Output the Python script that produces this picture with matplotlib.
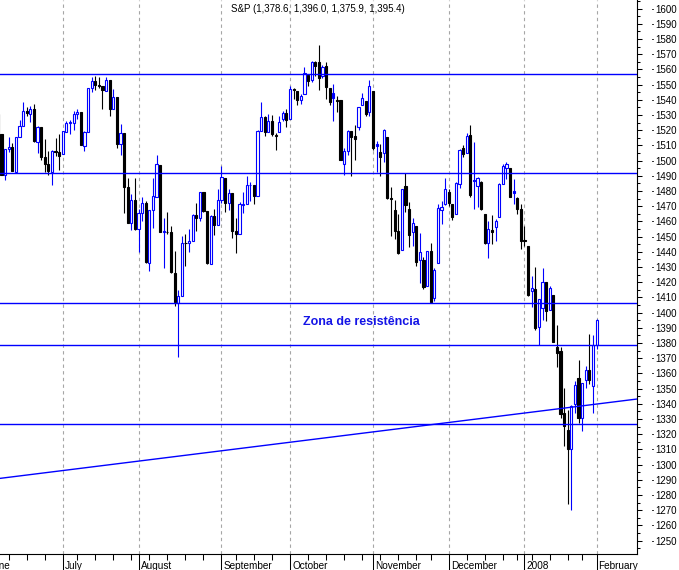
import numpy as np
import pandas as pd
import matplotlib
matplotlib.use("Agg")
import matplotlib.pyplot as plt
from matplotlib.patches import Rectangle
import matplotlib.transforms as mtransforms

plt.rcParams['font.family'] = ['Liberation Sans', 'DejaVu Sans']

# ---------------- data ----------------
holidays = ['2007-07-04', '2007-09-03', '2007-11-22', '2007-12-25', '2008-01-01', '2008-01-21']
dates = pd.bdate_range('2007-06-01', '2008-02-01')
dates = dates[~dates.isin(pd.to_datetime(holidays))]

opens = [
    # June
    1530.6, 1536.3, 1539.1, 1530.6, 1517.4, 1490.7, 1507.6, 1509.1, 1492.7, 1515.6, 1523.0,
    1532.9, 1531.0, 1533.7, 1512.5, 1522.2, 1502.6, 1497.7, 1492.6, 1506.3, 1505.7,
    # July
    1504.7, 1519.1, 1524.9, 1525.0, 1530.4, 1531.9, 1509.9, 1518.7, 1547.7, 1552.5, 1549.5,
    1549.2, 1546.1, 1553.2, 1534.1, 1541.6, 1511.0, 1518.1, 1482.4, 1458.9, 1473.9,
    # August
    1455.2, 1465.5, 1472.2, 1433.0, 1467.6, 1476.2, 1497.2, 1453.1, 1453.4, 1452.9, 1426.2,
    1406.6, 1411.3, 1445.9, 1445.6, 1447.0, 1464.1, 1462.3, 1479.4, 1466.7, 1432.0, 1463.7, 1457.6,
    # September
    1474.0, 1488.8, 1472.0, 1478.6, 1453.5, 1451.7, 1471.1, 1471.5, 1484.0, 1484.2, 1476.6,
    1519.8, 1528.7, 1518.8, 1525.8, 1516.3, 1518.6, 1527.3, 1531.2,
    # October
    1527.3, 1547.0, 1545.8, 1539.9, 1543.8, 1556.5, 1553.2, 1565.0, 1564.7, 1555.4, 1562.3,
    1547.8, 1544.4, 1539.3, 1540.0, 1497.8, 1506.3, 1519.6, 1516.2, 1522.2, 1536.9, 1539.4, 1532.2,
    # November
    1545.8, 1511.1, 1505.6, 1505.3, 1515.5, 1475.3, 1467.6, 1453.7, 1441.4, 1483.4, 1468.0,
    1453.1, 1456.7, 1434.5, 1434.7, 1417.6, 1440.7, 1409.6, 1433.0, 1467.4, 1471.8,
    # December
    1479.6, 1471.3, 1465.2, 1484.6, 1508.6, 1505.1, 1516.7, 1487.6, 1483.3, 1486.2, 1465.1,
    1445.9, 1454.7, 1456.4, 1463.2, 1484.6, 1495.1, 1495.1, 1479.8, 1475.3,
    # January + Feb 1
    1468.0, 1447.6, 1444.0, 1414.1, 1415.7, 1390.3, 1403.0, 1419.9, 1401.6, 1411.9, 1377.4,
    1374.8, 1333.9, 1323.0, 1310.4, 1340.1, 1357.3, 1330.7, 1355.9, 1362.2, 1352.0, 1378.6,
]
highs = [
    1540.6, 1540.5, 1539.1, 1530.6, 1517.4, 1507.8, 1515.5, 1511.3, 1515.7, 1526.5, 1538.7,
    1535.4, 1535.9, 1537.3, 1522.9, 1522.2, 1514.3, 1506.1, 1506.8, 1514.8, 1517.5,
    1519.5, 1526.0, 1526.6, 1532.4, 1534.3, 1531.9, 1519.3, 1547.9, 1555.1, 1555.9, 1555.3,
    1549.2, 1555.2, 1553.2, 1547.2, 1541.6, 1524.3, 1518.1, 1488.5, 1477.9, 1488.3,
    1468.4, 1476.4, 1473.2, 1467.7, 1488.3, 1503.9, 1497.2, 1462.0, 1466.3, 1456.7, 1440.8,
    1415.1, 1450.3, 1451.8, 1455.3, 1464.9, 1472.1, 1479.4, 1479.4, 1466.7, 1464.2, 1468.4, 1481.5,
    1496.4, 1488.8, 1481.5, 1478.6, 1462.3, 1472.5, 1479.5, 1489.6, 1486.0, 1484.2, 1519.9,
    1538.7, 1529.1, 1530.9, 1530.2, 1518.3, 1529.4, 1532.5, 1533.7,
    1549.0, 1548.0, 1545.8, 1544.0, 1561.9, 1556.5, 1565.3, 1565.4, 1576.1, 1563.0, 1564.7,
    1547.8, 1550.7, 1542.8, 1540.0, 1508.1, 1520.0, 1519.6, 1523.2, 1535.5, 1544.7, 1539.4, 1552.8,
    1545.8, 1513.2, 1510.8, 1520.8, 1515.5, 1482.5, 1474.1, 1464.9, 1481.4, 1492.1, 1472.7,
    1462.2, 1456.7, 1452.6, 1436.4, 1440.9, 1446.1, 1429.5, 1471.6, 1473.8, 1488.9,
    1481.2, 1471.3, 1486.1, 1508.0, 1510.6, 1518.3, 1523.6, 1512.0, 1489.4, 1486.7, 1465.1,
    1460.2, 1464.4, 1461.5, 1485.4, 1497.6, 1498.9, 1495.1, 1488.0, 1475.8,
    1471.8, 1456.8, 1444.0, 1423.9, 1430.3, 1409.2, 1429.1, 1419.9, 1417.3, 1411.9, 1392.0,
    1377.7, 1350.3, 1336.0, 1339.0, 1355.2, 1368.6, 1354.0, 1364.9, 1385.9, 1385.6, 1396.0,
]
lows = [
    1530.6, 1532.3, 1525.6, 1514.1, 1490.4, 1487.4, 1505.8, 1493.0, 1492.7, 1515.6, 1523.0,
    1529.3, 1525.7, 1512.4, 1504.8, 1500.7, 1492.7, 1490.5, 1484.2, 1503.4, 1493.6,
    1504.7, 1519.1, 1517.7, 1520.5, 1527.5, 1510.0, 1506.1, 1518.7, 1544.9, 1546.7, 1547.7,
    1533.7, 1546.1, 1529.2, 1534.1, 1508.6, 1503.7, 1465.3, 1459.0, 1454.3, 1454.3,
    1439.6, 1460.6, 1432.8, 1427.4, 1455.8, 1476.2, 1453.1, 1429.7, 1451.5, 1426.2, 1404.4,
    1370.6, 1411.3, 1430.5, 1439.8, 1447.0, 1453.9, 1460.5, 1466.0, 1432.0, 1432.0, 1451.3, 1457.6,
    1472.2, 1466.3, 1467.4, 1449.1, 1439.3, 1451.7, 1465.8, 1471.5, 1473.2, 1471.8, 1476.6,
    1519.8, 1516.4, 1518.8, 1516.2, 1507.1, 1518.6, 1525.8, 1522.0,
    1527.3, 1540.4, 1536.3, 1537.6, 1543.8, 1549.0, 1551.8, 1555.5, 1546.7, 1554.1, 1540.8,
    1536.3, 1526.0, 1531.8, 1500.3, 1490.4, 1503.6, 1489.6, 1500.5, 1520.2, 1536.9, 1529.6, 1529.4,
    1506.7, 1492.5, 1490.0, 1499.1, 1475.0, 1450.3, 1448.5, 1438.5, 1441.4, 1466.5, 1443.5,
    1444.0, 1430.4, 1419.3, 1415.6, 1417.6, 1406.1, 1407.4, 1433.0, 1458.4, 1470.9,
    1470.1, 1460.7, 1465.2, 1482.2, 1502.7, 1505.0, 1476.0, 1468.2, 1469.2, 1467.8, 1445.4,
    1435.7, 1445.3, 1447.2, 1463.2, 1484.6, 1488.2, 1475.9, 1471.7, 1465.1,
    1442.1, 1443.7, 1411.2, 1403.5, 1388.3, 1378.7, 1395.3, 1394.8, 1401.6, 1380.6, 1364.3,
    1330.7, 1312.5, 1274.3, 1270.1, 1334.3, 1327.5, 1322.3, 1350.2, 1353.0, 1334.1, 1375.9,
]
closes = [
    1536.3, 1539.2, 1531.0, 1517.4, 1490.7, 1507.7, 1509.1, 1493.0, 1515.7, 1523.0, 1532.9,
    1531.1, 1533.7, 1512.8, 1522.2, 1502.6, 1497.7, 1492.9, 1506.3, 1505.7, 1503.4,
    1519.4, 1524.9, 1525.4, 1530.4, 1531.9, 1510.1, 1518.8, 1547.7, 1552.5, 1549.5, 1549.4,
    1546.2, 1553.1, 1534.1, 1541.6, 1511.0, 1518.1, 1482.7, 1459.0, 1473.9, 1455.3,
    1465.8, 1472.2, 1433.1, 1467.7, 1476.7, 1497.5, 1453.1, 1453.6, 1452.9, 1426.5, 1406.7,
    1411.3, 1445.9, 1445.6, 1447.1, 1464.1, 1462.5, 1479.4, 1466.8, 1432.4, 1463.8, 1457.6, 1474.0,
    1489.4, 1472.3, 1478.6, 1453.6, 1451.7, 1471.5, 1471.6, 1484.0, 1484.3, 1476.7, 1519.8,
    1529.0, 1518.8, 1525.8, 1517.7, 1517.2, 1525.4, 1531.4, 1526.8,
    1547.0, 1546.6, 1539.6, 1542.8, 1557.6, 1552.6, 1565.2, 1562.5, 1554.4, 1561.8, 1548.7,
    1538.5, 1541.2, 1540.1, 1500.6, 1506.3, 1519.6, 1515.9, 1514.4, 1535.3, 1541.0, 1531.0, 1549.4,
    1508.4, 1509.7, 1502.2, 1520.3, 1475.6, 1474.8, 1453.7, 1439.2, 1481.1, 1470.6, 1451.2,
    1458.7, 1433.3, 1439.7, 1416.8, 1440.7, 1407.2, 1428.2, 1469.0, 1469.7, 1481.1,
    1472.4, 1462.8, 1485.0, 1507.3, 1504.7, 1516.0, 1477.7, 1486.6, 1488.4, 1468.0, 1445.9,
    1455.0, 1453.0, 1460.1, 1484.5, 1496.5, 1497.7, 1476.3, 1478.5, 1468.4,
    1447.2, 1447.2, 1411.6, 1416.2, 1390.2, 1409.1, 1420.3, 1401.0, 1416.3, 1381.0, 1373.2,
    1333.3, 1325.2, 1310.5, 1338.6, 1352.1, 1330.6, 1354.0, 1362.3, 1355.8, 1378.6, 1395.4,
]

month_dates = ['2007-06-01', '2007-07-02', '2007-08-01', '2007-09-04', '2007-10-01',
               '2007-11-01', '2007-12-03', '2008-01-03', '2008-02-01']
month_labels = ['June', 'July', 'August', 'September', 'October',
                'November', 'December', '2008', 'February']

support_levels = [1556.8, 1491.8, 1406.3, 1378.7, 1326.6]
trend_ends = [1291.0, 1343.2]
title_text = 'S&P (1,378.6, 1,396.0, 1,375.9, 1,395.4)'
zone_text = 'Zona de resistência'

# ---------------- drawing ----------------
n = min(len(dates), len(opens), len(highs), len(lows), len(closes))
dates = dates[:n]
xs = np.arange(n)
date_pos = {d.strftime('%Y-%m-%d'): i for i, d in enumerate(dates)}

BLUE = '#0000ff'
W, H, DPI = 679, 570, 100
fig = plt.figure(figsize=(W / DPI, H / DPI), dpi=DPI)
ax = fig.add_axes([0, 16 / H, 637 / W, 554 / H])

jul2 = date_pos['2007-07-02']

# month separators
mpos = [date_pos[d] for d in month_dates]
for p in mpos:
    ax.axvline(p, color='#a6a6a6', lw=0.8, ls=(0, (3, 3)), zorder=1)

# candles
bw = 0.6
prev_close = [opens[0]] + list(closes[:n - 1])
for k in range(n):
    o, h, l, c = opens[k], highs[k], lows[k], closes[k]
    col = BLUE if c > prev_close[k] else 'black'
    hollow = c >= o
    ax.vlines(xs[k], l, h, color=col, lw=0.8, zorder=3)
    lo, hi = min(o, c), max(o, c)
    ax.add_patch(Rectangle((xs[k] - bw / 2, lo), bw, max(hi - lo, 0.05),
                           facecolor='white' if hollow else col,
                           edgecolor=col, lw=0.8, zorder=4))

# horizontal levels and trend line
for lv in support_levels:
    ax.axhline(lv, color=BLUE, lw=1.0, zorder=5)
ax.plot([0, 1], trend_ends, color=BLUE, lw=1.0, transform=ax.get_yaxis_transform(),
        zorder=5)

# annotation
ax.text(jul2 + 66.6, 1393.9, zone_text, color='#1414e6', fontsize=9, fontweight='bold',
        ha='left', va='center', zorder=6)
fig.text(231 / W, 1 - 9 / H, title_text, fontsize=7, ha='left', va='center')

# axes styling
for s in ['left', 'top']:
    ax.spines[s].set_visible(False)
for s in ['right', 'bottom']:
    ax.spines[s].set_linewidth(0.8)
    ax.spines[s].set_color('black')

ax.yaxis.tick_right()
ax.set_yticks(np.arange(1250, 1601, 10))
ax.set_yticks(np.arange(1245, 1606, 5), minor=True)
ax.tick_params(axis='y', which='major', length=3.6, width=0.75, pad=9.5, labelsize=7,
               direction='out')
ax.tick_params(axis='y', which='minor', length=2.2, width=0.75, direction='out')
# small leader mark before each price label
for v in np.arange(1250, 1601, 10):
    ax.plot([651.5 / 637, 653 / 637], [v, v], color='#333333', lw=0.7,
            transform=ax.get_yaxis_transform(), clip_on=False)

# x ticks: weekly minor, monthly major
week = dates.to_period('W')
week_start = [i for i in range(n) if i == 0 or week[i] != week[i - 1]]
ax.set_xticks(mpos)
ax.set_xticks(week_start, minor=True)
ax.tick_params(axis='x', which='major', length=12, width=0.75, labelbottom=False,
               direction='out')
ax.tick_params(axis='x', which='minor', length=4, width=0.75, direction='out')

# limits last (setting ticks can widen the view)
ax.set_xlim(jul2 - 17.41, jul2 + 159.2)
ax.set_ylim(1241.25, 1605.7)

trans = mtransforms.blended_transform_factory(ax.transData, fig.transFigure)
trans = mtransforms.offset_copy(trans, fig=fig, x=2, y=0, units='dots')
for p, lab in zip(mpos, month_labels):
    ax.text(p, 1 - 561 / H, lab, transform=trans, fontsize=7.2, ha='left', va='top',
            clip_on=False)

fig.savefig('out.png', dpi=DPI)
